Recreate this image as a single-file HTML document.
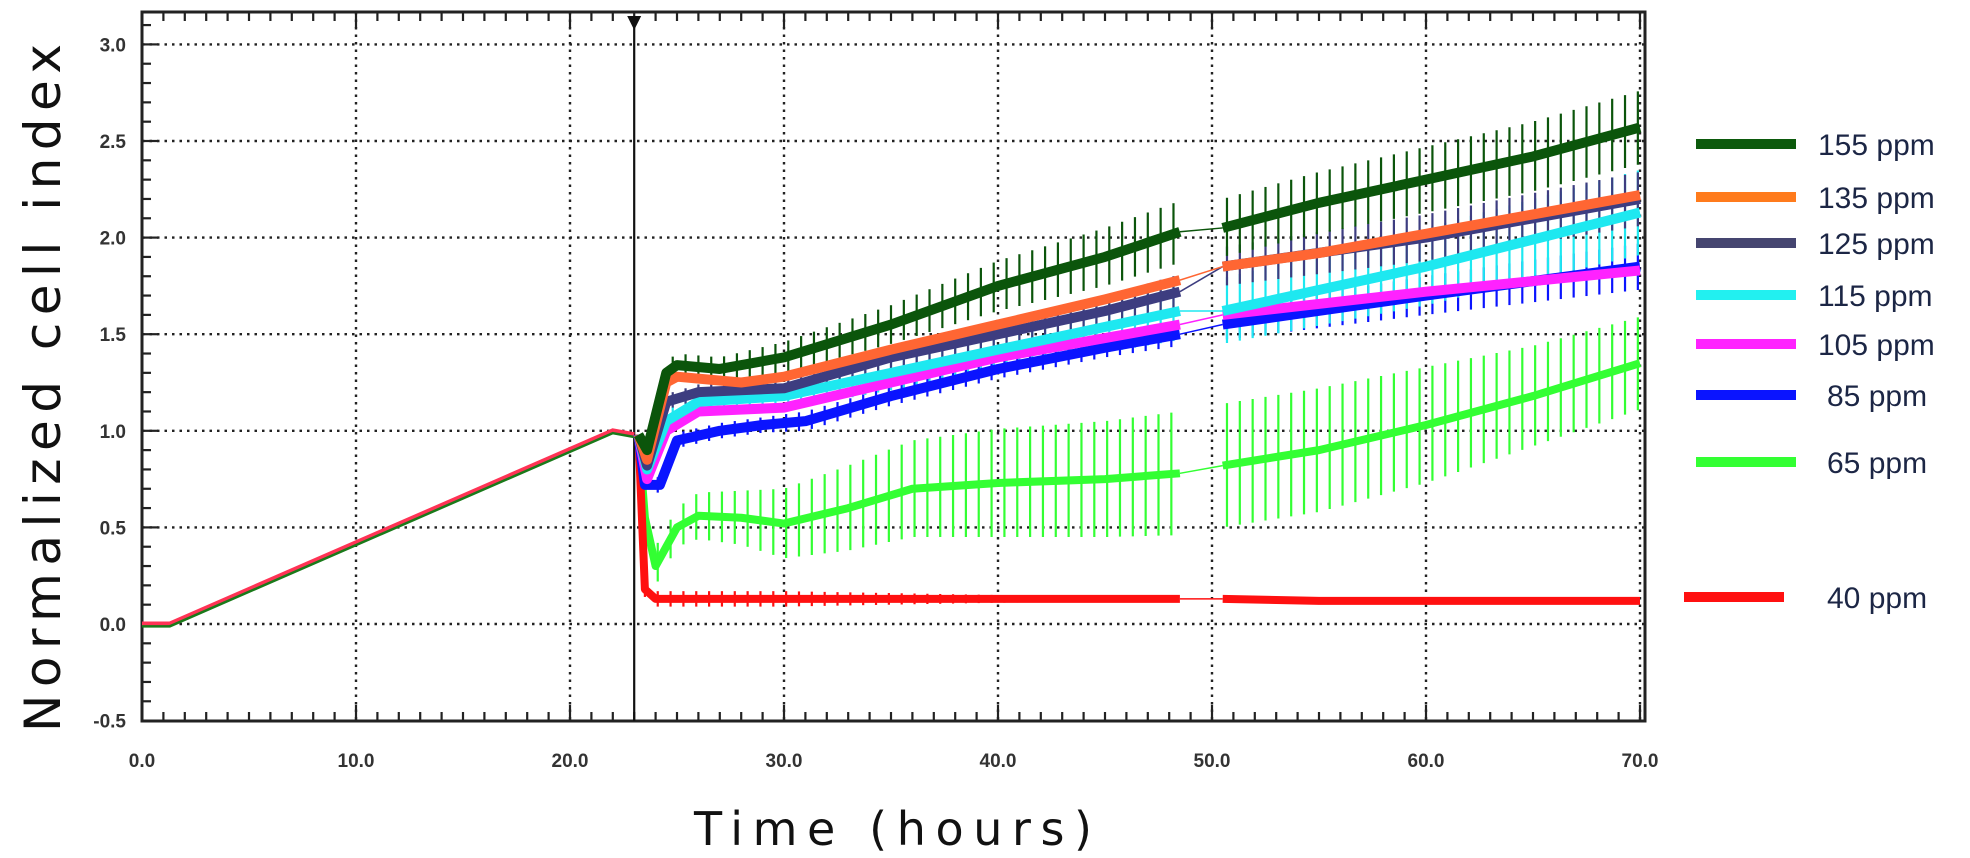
<!DOCTYPE html>
<html><head><meta charset="utf-8"><style>
body{margin:0;background:#fff;}
svg{display:block;}
</style></head><body>
<svg id="chart" width="1970" height="858" viewBox="0 0 1970 858" xmlns="http://www.w3.org/2000/svg">
<rect width="1970" height="858" fill="#fff"/>
<g id="grid"></g>
<g id="axes"></g>
<g id="series"></g>
<g id="legend"></g>
<text transform="translate(60,388) rotate(-90)" text-anchor="middle" font-family="DejaVu Sans, sans-serif" font-size="50" fill="#111" textLength="688" lengthAdjust="spacing">Normalized cell index</text>
<text x="893" y="845" text-anchor="middle" font-family="DejaVu Sans, sans-serif" font-size="46" fill="#111" textLength="398" lengthAdjust="spacing">Time (hours)</text>
</svg>
<script>
const xTicks=[0,10,20,30,40,50,60,70];
const xTickLabels=["0.0","10.0","20.0","30.0","40.0","50.0","60.0","70.0"];
const yTicks=[-0.5,0,0.5,1,1.5,2,2.5,3];
const yTickLabels=["-0.5","0.0","0.5","1.0","1.5","2.0","2.5","3.0"];
const seriesNames=["155 ppm","135 ppm","125 ppm","115 ppm","105 ppm","85 ppm","65 ppm","40 ppm"];
const seriesColors=["#0b550b","#ff6633","#3d3d80","#1ee8f0","#ff22ff","#0a14ff","#33ff33","#ff1010"];
const legendColors=["#0c5a0c","#ff7b1c","#454570","#22f0f0","#ff22ff","#0a14ff","#33ff33","#ff1010"];
const preTimes=[0,1.3,22,23];
const preValues=[0,0,1.0,0.98];
const t155=[23.2,23.6,24.5,25,27,30,35,40,45,48.5];
const v155=[0.98,0.9,1.3,1.34,1.32,1.38,1.55,1.75,1.9,2.03];
const t155b=[50.5,55,60,65,70];
const v155b=[2.05,2.18,2.3,2.42,2.57];
const e155=[0.05,0.05,0.06,0.06,0.06,0.08,0.1,0.13,0.15,0.16];
const e155b=[0.15,0.16,0.17,0.18,0.19];
const t135=[23.2,23.6,24.5,25,28,30,35,40,45,48.5];
const v135=[0.98,0.85,1.25,1.28,1.25,1.28,1.42,1.55,1.68,1.78];
const t135b=[50.5,55,60,65,70];
const v135b=[1.85,1.92,2.02,2.12,2.22];
const t125=[23.2,23.6,24.5,26,30,35,40,45,48.5];
const v125=[0.98,0.82,1.15,1.2,1.22,1.38,1.5,1.62,1.72];
const t125b=[50.5,60,70];
const v125b=[1.85,2.0,2.2];
const e125=[0.03,0.03,0.04,0.04,0.05,0.06,0.07,0.08,0.09];
const e125b=[0.1,0.12,0.14];
const t115=[23.2,23.6,24.5,26,30,35,40,48.5];
const v115=[0.98,0.8,1.05,1.15,1.18,1.3,1.42,1.62];
const t115b=[50.5,60,70];
const v115b=[1.62,1.85,2.13];
const e115=[0.03,0.04,0.05,0.06,0.07,0.09,0.11,0.15];
const e115b=[0.17,0.2,0.22];
const t105=[23.2,23.6,24.5,26,30,35,40,45,48.5];
const v105=[0.98,0.75,1.0,1.1,1.12,1.25,1.38,1.48,1.55];
const t105b=[50.5,60,70];
const v105b=[1.6,1.72,1.83];
const t85=[23.2,23.5,24.2,25,27,29,31,35,40,45,48.5];
const v85=[0.98,0.72,0.72,0.95,1.0,1.03,1.05,1.18,1.32,1.43,1.5];
const t85b=[50.5,60,70];
const v85b=[1.55,1.7,1.85];
const e85=[0.03,0.04,0.04,0.04,0.04,0.04,0.05,0.05,0.05,0.05,0.06];
const e85b=[0.08,0.1,0.12];
const t65=[23.2,23.5,24,25,26,28,30,33,36,40,45,48.5];
const v65=[0.98,0.55,0.3,0.5,0.56,0.55,0.52,0.6,0.7,0.73,0.75,0.78];
const t65b=[50.5,55,60,65,70];
const v65b=[0.82,0.9,1.03,1.18,1.35];
const e65=[0.05,0.15,0.1,0.1,0.12,0.14,0.18,0.22,0.25,0.28,0.3,0.32];
const e65b=[0.32,0.32,0.3,0.26,0.24];
const t40=[23.2,23.5,24,30,40,48.5];
const v40=[0.98,0.18,0.13,0.13,0.13,0.13];
const t40b=[50.5,55,70];
const v40b=[0.13,0.12,0.12];
const e40=[0.02,0.04,0.04,0.04,0.02,0.01];
const e40b=[0.01,0.01,0.01];

const NS="http://www.w3.org/2000/svg";
const L=142,R=1645,T=12,B=721;
const x=t=>L+t*(1640-L)/70;
const y=v=>624-v*193.2;
function mk(tag,attrs,parent){const e=document.createElementNS(NS,tag);for(const k in attrs)e.setAttribute(k,attrs[k]);parent.appendChild(e);return e;}
const grid=document.getElementById('grid'),axes=document.getElementById('axes'),ser=document.getElementById('series'),leg=document.getElementById('legend');
xTicks.forEach(t=>{if(t>0){const g=mk('line',{x1:x(t),x2:x(t),y1:T,y2:B,stroke:'#222','stroke-width':2.4,'stroke-dasharray':'2.5 5'},grid);}});
yTicks.forEach(v=>{if(v>-0.5){const g=mk('line',{x1:L,x2:R,y1:y(v),y2:y(v),stroke:'#222','stroke-width':2.4,'stroke-dasharray':'2.5 5'},grid);}});
const fr=mk('rect',{x:L,y:T,width:R-L,height:B-T,fill:'none',stroke:'#222','stroke-width':3},axes);

for(let t=0;t<=70;t++){const len=t%10===0?16:9;
 mk('line',{x1:x(t),x2:x(t),y1:B,y2:B-len,stroke:'#222','stroke-width':2.2},axes);
 mk('line',{x1:x(t),x2:x(t),y1:T,y2:T+len,stroke:'#222','stroke-width':2.2},axes);}
for(let i=-5;i<=31;i++){const v=i/10;const len=i%5===0?16:9;mk('line',{x1:L,x2:L+len,y1:y(v),y2:y(v),stroke:'#222','stroke-width':2.2},axes);}
xTicks.forEach((t,i)=>{const tx=mk('text',{x:x(t),y:767,'text-anchor':'middle','font-family':'Liberation Sans, sans-serif','font-size':19,'font-weight':'bold',fill:'#333'},axes);tx.textContent=xTickLabels[i];});
yTicks.forEach((v,i)=>{const tx=mk('text',{x:126,y:y(v)+7,'text-anchor':'end','font-family':'Liberation Sans, sans-serif','font-size':19,'font-weight':'bold',fill:'#333'},axes);tx.textContent=yTickLabels[i];});
const tl=mk('line',{x1:x(23.0),x2:x(23.0),y1:T+8,y2:B,stroke:'#111','stroke-width':2.2},axes);

const tri=mk('polygon',{points:`${x(23)-7},${T+4} ${x(23)+7},${T+4} ${x(23)},${T+18}`,fill:'#111'},axes);


function pts(ts,vs){return ts.map((t,i)=>x(t)+','+y(vs[i])).join(' ');}
function interp(ts,vs,t){for(let i=0;i<ts.length-1;i++){if(t>=ts[i]&&t<=ts[i+1]){const f=(t-ts[i])/(ts[i+1]-ts[i]);return vs[i]+f*(vs[i+1]-vs[i]);}}return vs[vs.length-1];}
const S=[
 {t:t155,v:v155,tb:t155b,vb:v155b,e:e155,eb:e155b},
 {t:t135,v:v135,tb:t135b,vb:v135b},
 {t:t125,v:v125,tb:t125b,vb:v125b,e:e125,eb:e125b},
 {t:t115,v:v115,tb:t115b,vb:v115b,e:e115,eb:e115b},
 {t:t105,v:v105,tb:t105b,vb:v105b},
 {t:t85,v:v85,tb:t85b,vb:v85b,e:e85,eb:e85b},
 {t:t65,v:v65,tb:t65b,vb:v65b,e:e65,eb:e65b},
 {t:t40,v:v40,tb:t40b,vb:v40b,e:e40,eb:e40b}];
const order=[6,7,5,4,3,2,1,0];
order.forEach(i=>{const s=S[i];if(!s.e)return;const g=mk('g',{},ser);
 const segs=[[s.t,s.v,s.e,s.t[1]],[s.tb,s.vb,s.eb,s.tb[0]+0.2]];
 segs.forEach(([ts,vs,es,start])=>{for(let t=start;t<=ts[ts.length-1];t+=0.6){const v=interp(ts,vs,t),e=interp(ts,es,t);
  mk('line',{x1:x(t),x2:x(t),y1:y(v-e),y2:y(v+e),stroke:seriesColors[i],'stroke-width':2.2},g);}});});
const pre=mk('polyline',{points:pts(preTimes,preValues),fill:'none',stroke:'#ff3355','stroke-width':5},ser);

const pre2=mk('polyline',{points:pts(preTimes,preValues.map(v=>v-0.012)),fill:'none',stroke:'#1a7a1a','stroke-width':2.5},ser);

order.forEach(i=>{const s=S[i];const g=mk('g',{},ser);
 const w=i===6||i===7?8:10;
 mk('polyline',{points:pts(s.t,s.v),fill:'none',stroke:seriesColors[i],'stroke-width':w,'stroke-linejoin':'round'},g);
 mk('line',{x1:x(s.t[s.t.length-1]),y1:y(s.v[s.v.length-1]),x2:x(s.tb[0]),y2:y(s.vb[0]),stroke:seriesColors[i],'stroke-width':1.5},g);
 mk('polyline',{points:pts(s.tb,s.vb),fill:'none',stroke:seriesColors[i],'stroke-width':w,'stroke-linejoin':'round'},g);});
const legY=[144,197,243,295,344,395,462,597];
const legX1=[1696,1696,1696,1696,1696,1696,1696,1684];
seriesNames.forEach((n,i)=>{const g=mk('g',{},leg);
 mk('line',{x1:legX1[i],x2:legX1[i]+100,y1:legY[i],y2:legY[i],stroke:legendColors[i],'stroke-width':10},g);
 const off=(n.length===7)?0:9;
 const tx=mk('text',{x:1818+off,y:legY[i]+11,'font-family':'Liberation Sans, sans-serif','font-size':30,fill:'#1c2645'},g);tx.textContent=n;});
</script>
</body></html>
